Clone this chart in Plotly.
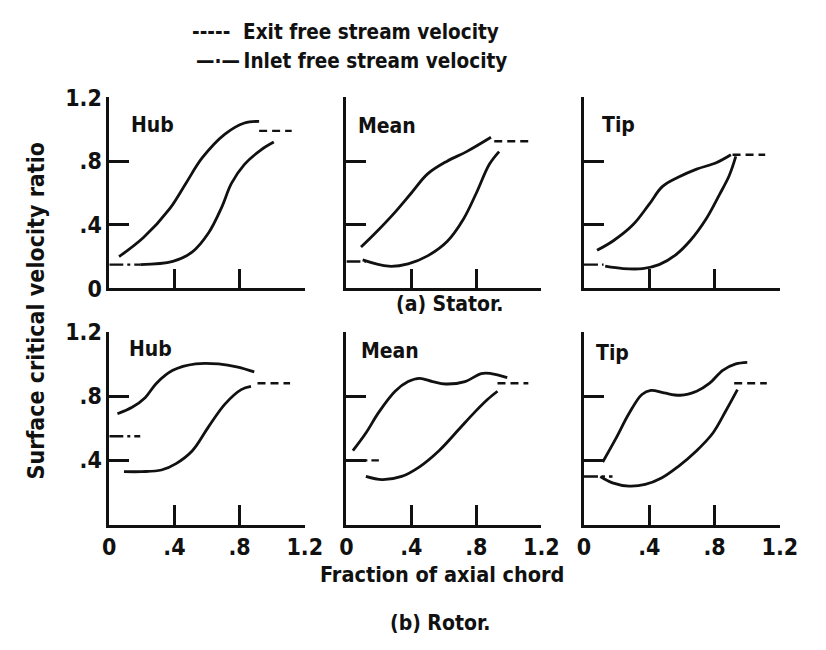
import plotly.graph_objects as go

# ---------------- data (fraction of axial chord vs. surface critical velocity ratio) -------------
tick_vals = [0, 0.4, 0.8, 1.2]
tick_text = ["0", ".4", ".8", "1.2"]

panel_names = ["Hub", "Mean", "Tip", "Hub", "Mean", "Tip"]
section_titles = ["(a) Stator.", "(b) Rotor."]
legend_texts = ["-----\u00a0\u00a0Exit free stream velocity", "\u2014\u00b7\u2014\u2009Inlet free stream velocity"]

# Stator hub
st_hub_upper_x = [0.06, 0.21, 0.37, 0.47, 0.57, 0.71, 0.83, 0.92]
st_hub_upper_y = [0.20, 0.32, 0.50, 0.66, 0.82, 0.97, 1.04, 1.05]
st_hub_lower_x = [0.19, 0.39, 0.51, 0.61, 0.69, 0.75, 0.83, 0.93, 1.01]
st_hub_lower_y = [0.15, 0.17, 0.23, 0.35, 0.51, 0.66, 0.78, 0.87, 0.92]
st_hub_inlet_x = [0.0, 0.19]
st_hub_inlet_y = [0.15, 0.15]
st_hub_exit_x = [0.92, 1.12]
st_hub_exit_y = [0.99, 0.99]

# Stator mean
st_mean_upper_x = [0.09, 0.18, 0.30, 0.40, 0.50, 0.62, 0.74, 0.89]
st_mean_upper_y = [0.26, 0.35, 0.48, 0.60, 0.72, 0.80, 0.86, 0.95]
st_mean_lower_x = [0.10, 0.26, 0.38, 0.50, 0.62, 0.72, 0.80, 0.88, 0.94]
st_mean_lower_y = [0.18, 0.14, 0.155, 0.205, 0.295, 0.435, 0.60, 0.78, 0.86]
st_mean_inlet_x = [0.0, 0.12]
st_mean_inlet_y = [0.17, 0.17]
st_mean_exit_x = [0.91, 1.12]
st_mean_exit_y = [0.925, 0.925]

# Stator tip
st_tip_upper_x = [0.08, 0.18, 0.30, 0.40, 0.48, 0.58, 0.69, 0.81, 0.90]
st_tip_upper_y = [0.24, 0.30, 0.40, 0.53, 0.64, 0.70, 0.75, 0.79, 0.84]
st_tip_lower_x = [0.13, 0.24, 0.36, 0.46, 0.56, 0.65, 0.75, 0.83, 0.89, 0.93]
st_tip_lower_y = [0.14, 0.125, 0.125, 0.15, 0.21, 0.30, 0.44, 0.59, 0.71, 0.83]
st_tip_inlet_x = [0.0, 0.12]
st_tip_inlet_y = [0.15, 0.15]
st_tip_exit_x = [0.91, 1.11]
st_tip_exit_y = [0.84, 0.84]

# Rotor hub
ro_hub_upper_x = [0.05, 0.14, 0.22, 0.29, 0.39, 0.53, 0.67, 0.79, 0.89]
ro_hub_upper_y = [0.69, 0.73, 0.79, 0.88, 0.96, 1.00, 1.00, 0.98, 0.95]
ro_hub_lower_x = [0.09, 0.20, 0.32, 0.41, 0.51, 0.61, 0.71, 0.81, 0.87]
ro_hub_lower_y = [0.33, 0.33, 0.34, 0.38, 0.46, 0.61, 0.75, 0.84, 0.86]
ro_hub_inlet_x = [0.0, 0.19]
ro_hub_inlet_y = [0.55, 0.55]
ro_hub_exit_x = [0.91, 1.11]
ro_hub_exit_y = [0.88, 0.88]

# Rotor mean
ro_mean_upper_x = [0.04, 0.12, 0.20, 0.30, 0.38, 0.45, 0.53, 0.61, 0.73, 0.83, 0.89, 0.99]
ro_mean_upper_y = [0.46, 0.57, 0.70, 0.83, 0.89, 0.91, 0.89, 0.875, 0.89, 0.94, 0.94, 0.915]
ro_mean_lower_x = [0.12, 0.22, 0.34, 0.45, 0.57, 0.69, 0.79, 0.87, 0.93]
ro_mean_lower_y = [0.30, 0.28, 0.30, 0.36, 0.46, 0.59, 0.70, 0.78, 0.83]
ro_mean_inlet_x = [0.0, 0.20]
ro_mean_inlet_y = [0.40, 0.40]
ro_mean_exit_x = [0.93, 1.12]
ro_mean_exit_y = [0.88, 0.88]

# Rotor tip
ro_tip_upper_x = [0.115, 0.195, 0.275, 0.355, 0.41, 0.49, 0.59, 0.69, 0.77, 0.85, 0.93, 1.00]
ro_tip_upper_y = [0.39, 0.535, 0.69, 0.81, 0.835, 0.82, 0.805, 0.83, 0.88, 0.96, 1.00, 1.01]
ro_tip_lower_x = [0.10, 0.175, 0.275, 0.375, 0.475, 0.575, 0.69, 0.79, 0.87, 0.94]
ro_tip_lower_y = [0.30, 0.26, 0.24, 0.25, 0.29, 0.36, 0.46, 0.57, 0.71, 0.84]
ro_tip_inlet_x = [0.0, 0.175]
ro_tip_inlet_y = [0.30, 0.30]
ro_tip_exit_x = [0.92, 1.12]
ro_tip_exit_y = [0.88, 0.88]

panels = [
    (st_hub_upper_x, st_hub_upper_y, st_hub_lower_x, st_hub_lower_y, st_hub_inlet_x, st_hub_inlet_y, st_hub_exit_x, st_hub_exit_y),
    (st_mean_upper_x, st_mean_upper_y, st_mean_lower_x, st_mean_lower_y, st_mean_inlet_x, st_mean_inlet_y, st_mean_exit_x, st_mean_exit_y),
    (st_tip_upper_x, st_tip_upper_y, st_tip_lower_x, st_tip_lower_y, st_tip_inlet_x, st_tip_inlet_y, st_tip_exit_x, st_tip_exit_y),
    (ro_hub_upper_x, ro_hub_upper_y, ro_hub_lower_x, ro_hub_lower_y, ro_hub_inlet_x, ro_hub_inlet_y, ro_hub_exit_x, ro_hub_exit_y),
    (ro_mean_upper_x, ro_mean_upper_y, ro_mean_lower_x, ro_mean_lower_y, ro_mean_inlet_x, ro_mean_inlet_y, ro_mean_exit_x, ro_mean_exit_y),
    (ro_tip_upper_x, ro_tip_upper_y, ro_tip_lower_x, ro_tip_lower_y, ro_tip_inlet_x, ro_tip_inlet_y, ro_tip_exit_x, ro_tip_exit_y),
]
label_pos = [(0.12, 1.03), (0.06, 1.02), (0.10, 1.03), (0.11, 1.09), (0.08, 1.08), (0.06, 1.07)]

# ---------------- styling / layout ----------------
FONT = "DejaVu Sans Condensed, Liberation Sans Narrow, DejaVu Sans, sans-serif"
INK = "#111111"
EXIT_DASH = "8px,5px"
INLET_DASH = "14px,4px,3px,4px"


def f(size):
    return dict(family=FONT, size=size, color=INK, weight="bold")


x_domains = [[0.1277, 0.3717], [0.4237, 0.6671], [0.7203, 0.9649]]
y_domains = [[0.5585, 0.8646], [0.180, 0.4892]]

fig = go.Figure()

for i, (ux, uy, lx, ly, ix, iy, ex, ey) in enumerate(panels):
    n = "" if i == 0 else str(i + 1)
    xa, ya = "x" + n, "y" + n
    common = dict(xaxis=xa, yaxis=ya, mode="lines", hoverinfo="skip", showlegend=False)
    fig.add_trace(go.Scatter(x=ex, y=ey, line=dict(color=INK, width=2.4, dash=EXIT_DASH),
                             name="Exit free stream velocity", **common))
    fig.add_trace(go.Scatter(x=ix, y=iy, line=dict(color=INK, width=2.4, dash=INLET_DASH),
                             name="Inlet free stream velocity", **common))
    fig.add_trace(go.Scatter(x=ux, y=uy, line=dict(color=INK, width=2.8, shape="spline", smoothing=1.0),
                             name="Surface", **common))
    fig.add_trace(go.Scatter(x=lx, y=ly, line=dict(color=INK, width=2.8, shape="spline", smoothing=1.0),
                             name="Surface", **common))

layout_axes = {}
annotations = []
for i in range(6):
    r, c = divmod(i, 3)
    n = "" if i == 0 else str(i + 1)
    axis_common = dict(range=[0, 1.2], showgrid=False, zeroline=False, showline=True,
                       linecolor=INK, linewidth=2.8, ticks="inside", ticklen=20,
                       tickwidth=2.6, tickcolor=INK, tickvals=tick_vals,
                       tickfont=f(23), fixedrange=True)
    xt = tick_text if r == 1 else ["", "", "", ""]
    if c == 0:
        yt = tick_text if r == 0 else [""] + tick_text[1:]
    else:
        yt = ["", "", "", ""]
    layout_axes["xaxis" + n] = dict(domain=x_domains[c], anchor="y" + n, ticktext=xt,
                                    showticklabels=(r == 1), **axis_common)
    layout_axes["yaxis" + n] = dict(domain=y_domains[r], anchor="x" + n, ticktext=yt,
                                    showticklabels=(c == 0), **axis_common)
    lx, ly = label_pos[i]
    annotations.append(dict(text=panel_names[i], x=lx, y=ly, xref="x" + n, yref="y" + n,
                            xanchor="left", yanchor="middle", showarrow=False, font=f(21)))

annotations += [
    dict(text=legend_texts[0], x=0.229, y=0.969, xref="paper", yref="paper",
         xanchor="left", yanchor="middle", showarrow=False, font=f(20.5)),
    dict(text=legend_texts[1], x=0.234, y=0.923, xref="paper", yref="paper",
         xanchor="left", yanchor="middle", showarrow=False, font=f(20.5)),
    dict(text=section_titles[0], x=0.553, y=0.534, xref="paper", yref="paper",
         xanchor="center", yanchor="middle", showarrow=False, font=f(21)),
    dict(text=section_titles[1], x=0.541, y=0.023, xref="paper", yref="paper",
         xanchor="center", yanchor="middle", showarrow=False, font=f(21)),
    dict(text="Fraction of axial chord", x=0.543, y=0.10, xref="paper", yref="paper",
         xanchor="center", yanchor="middle", showarrow=False, font=f(21.5)),
    dict(text="Surface critical velocity ratio", x=0.036, y=0.523, xref="paper", yref="paper",
         xanchor="center", yanchor="middle", textangle=-90, showarrow=False, font=f(23)),
]

fig.update_layout(
    width=826, height=650,
    margin=dict(l=0, r=0, t=0, b=0),
    paper_bgcolor="white", plot_bgcolor="white",
    showlegend=False,
    annotations=annotations,
    **layout_axes,
)

fig.write_html("out.html")
